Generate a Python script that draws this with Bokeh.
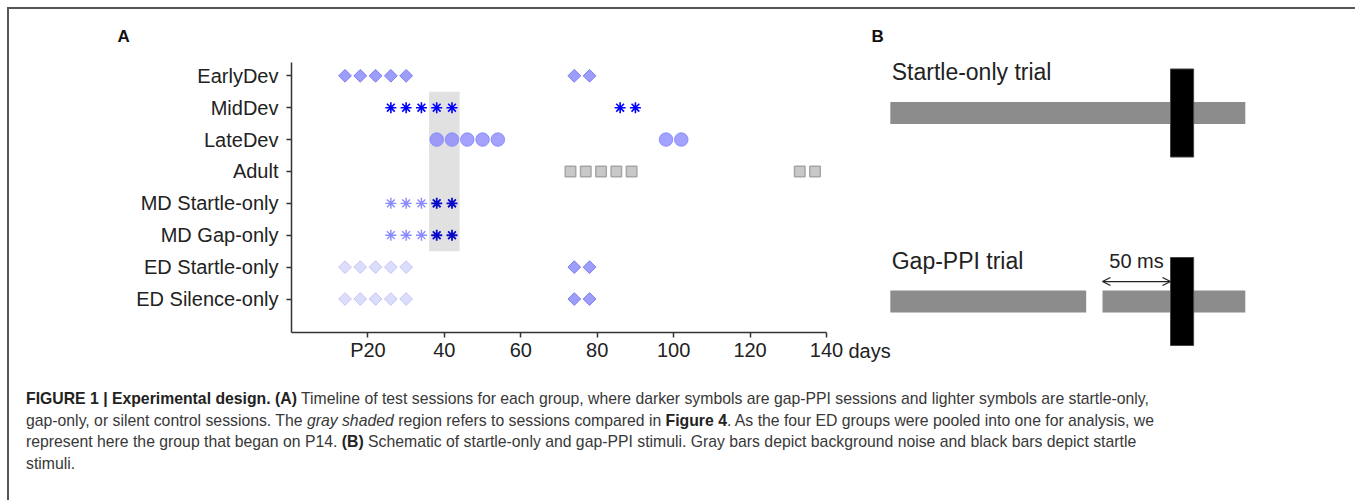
import numpy as np
from bokeh.plotting import figure
from bokeh.models import Range1d, FixedTicker, Div, Arrow, OpenHead
from bokeh.layouts import row, column
from bokeh.embed import file_html
from bokeh.resources import INLINE
from bokeh.core.properties import value

# ---------------- data : panel A ----------------
groups = ["EarlyDev", "MidDev", "LateDev", "Adult",
          "MD Startle-only", "MD Gap-only", "ED Startle-only", "ED Silence-only"]
x_ticks = [20, 40, 60, 80, 100, 120, 140]
x_tick_labels = ["P20", "40", "60", "80", "100", "120", "140"]
x_unit = "days"
panel_letters = ["A", "B"]

early_days = [14, 18, 22, 26, 30, 74, 78]
mid_days = [26, 30, 34, 38, 42, 86, 90]
late_days = [38, 42, 46, 50, 54, 98, 102]
adult_days = [73, 77, 81, 85, 89, 133, 137]
md_light_days = [26, 30, 34]
md_dark_days = [38, 42]
ed_light_days = [14, 18, 22, 26, 30]
ed_dark_days = [74, 78]
shade_days = [36, 44]
shade_groups = ["MidDev", "MD Gap-only"]

# ---------------- data : panel B (ms, startle onset = 0) ----------------
trials = ["Startle-only trial", "Gap-PPI trial"]
noise_start_ms = -206
noise_end_ms = 55
gap_start_ms = -62
gap_end_ms = -50
startle_dur_ms = 17
lead_label = "50 ms"

FONT = "Liberation Sans"
TXT = "#222222"

def row_of(g):
    return groups.index(g) + 1

# ---------------- strip with panel letters ----------------
strip = figure(width=1337, height=40, x_range=Range1d(9, 1346), y_range=Range1d(49, 9),
               x_axis_location=None, y_axis_location=None, min_border=0,
               output_backend="svg", toolbar_location=None, frame_align=False)
strip.grid.grid_line_color = None
strip.outline_line_color = None
strip.text(x=[117, 871], y=[35.6, 35.8], text=panel_letters, text_font=value(FONT),
           text_font_style="bold", text_font_size="17px", text_color="#111111",
           text_align="left", text_baseline="middle")

# ---------------- panel A ----------------
pA = figure(frame_width=535, frame_height=270, x_range=Range1d(0, 140),
            y_range=Range1d(9.05, 0.583), output_backend="svg",
            toolbar_location=None, min_border_left=282, min_border_top=13,
            min_border_right=19, min_border_bottom=38, frame_align=False)
pA.outline_line_color = None
pA.grid.grid_line_color = None

pA.quad(left=shade_days[0], right=shade_days[1],
        top=row_of(shade_groups[0]) - 0.5, bottom=row_of(shade_groups[1]) + 0.5,
        fill_color="#e1e1e1", line_color=None)

dia_fill, dia_line = "#9d9dfa", "#7d7df2"
light_fill, light_line = "#dcdcfc", "#c6c6f8"

pA.scatter(early_days, [row_of("EarlyDev")] * len(early_days), marker="square",
           angle=np.pi / 4, size=9, fill_color=dia_fill, line_color=dia_line, line_width=1)
pA.scatter(mid_days, [row_of("MidDev")] * len(mid_days), marker="asterisk",
           size=11, line_color="#0000ff", line_width=1.6)
pA.scatter(late_days, [row_of("LateDev")] * len(late_days), marker="circle",
           size=13.5, fill_color="#8080ff", fill_alpha=0.72, line_color="#8080ff", line_alpha=0.8)
pA.scatter(adult_days, [row_of("Adult")] * len(adult_days), marker="square",
           size=10.5, fill_color="#c8c8c8", line_color="#a6a6a6", line_width=1.5)
for g in ["MD Startle-only", "MD Gap-only"]:
    pA.scatter(md_light_days, [row_of(g)] * len(md_light_days), marker="asterisk",
               size=11, line_color="#8a8aff", line_width=1.4)
    pA.scatter(md_dark_days, [row_of(g)] * len(md_dark_days), marker="asterisk",
               size=11, line_color="#0808c8", line_width=1.8)
for g in ["ED Startle-only", "ED Silence-only"]:
    pA.scatter(ed_light_days, [row_of(g)] * len(ed_light_days), marker="square",
               angle=np.pi / 4, size=9, fill_color=light_fill, line_color=light_line, line_width=1)
    pA.scatter(ed_dark_days, [row_of(g)] * len(ed_dark_days), marker="square",
               angle=np.pi / 4, size=9, fill_color=dia_fill, line_color=dia_line, line_width=1)

for ax in (pA.xaxis, pA.yaxis):
    ax.axis_line_color = "#333333"
    ax.axis_line_width = 1.5
    ax.major_tick_line_color = "#333333"
    ax.major_tick_line_width = 1.5
    ax.major_tick_in = 0
    ax.major_tick_out = 5
    ax.minor_tick_line_color = None
    ax.major_label_text_font = FONT
    ax.major_label_text_font_size = "20px"
    ax.major_label_text_color = TXT

pA.xaxis.ticker = FixedTicker(ticks=x_ticks)
pA.xaxis.major_label_overrides = {t: l for t, l in zip(x_ticks, x_tick_labels)}
pA.xaxis.major_label_standoff = 1
rows = list(range(1, len(groups) + 1))
pA.yaxis.ticker = FixedTicker(ticks=rows)
pA.yaxis.major_label_overrides = {r: g for r, g in zip(rows, groups)}
pA.yaxis.major_label_standoff = 8

# ---------------- panel B ----------------
pB = figure(width=501, height=321, x_range=Range1d(-238.97, 129.41),
            y_range=Range1d(1.366, -0.3369), output_backend="svg",
            toolbar_location=None, min_border=0, x_axis_location=None,
            y_axis_location=None, frame_align=False)
pB.grid.grid_line_color = None
pB.outline_line_color = None

noise_h = 0.117
startle_h = 0.467
noise_col = "#8c8c8c"
# startle-only trial
pB.quad(left=[noise_start_ms], right=[noise_end_ms], top=[0 - noise_h / 2],
        bottom=[0 + noise_h / 2], fill_color=noise_col, line_color=None)
# gap-PPI trial
pB.quad(left=[noise_start_ms, gap_end_ms], right=[gap_start_ms, noise_end_ms],
        top=[1 - noise_h / 2] * 2, bottom=[1 + noise_h / 2] * 2,
        fill_color=noise_col, line_color=None)
# startle pulses
pB.quad(left=[0, 0], right=[startle_dur_ms, startle_dur_ms],
        top=[0 - startle_h / 2, 1 - startle_h / 2], bottom=[0 + startle_h / 2, 1 + startle_h / 2],
        fill_color="#000000", line_color="#444444", line_width=1)

pB.text(x=[noise_start_ms + 1, noise_start_ms + 1], y=[0 - 0.219, 1 - 0.215], text=trials,
        text_font=value(FONT), text_font_size="23px", text_color=TXT,
        text_align="left", text_baseline="middle")
pB.text(x=[(gap_end_ms + 0) / 2], y=[1 - 0.2137], text=[lead_label],
        text_font=value(FONT), text_font_size="20px", text_color=TXT,
        text_align="center", text_baseline="middle")
pB.add_layout(Arrow(x_start=gap_end_ms, x_end=0, y_start=1 - 0.106, y_end=1 - 0.106,
                    line_color="#222222", line_width=1.3,
                    start=OpenHead(size=8, line_color="#222222", line_width=1.3),
                    end=OpenHead(size=8, line_color="#222222", line_width=1.3)))
# unit label of panel A's time axis (sits right of the "140" tick)
pB.text(x=[-236.8], y=[1.26], text=[x_unit], text_font=value(FONT),
        text_font_size="20px", text_color=TXT, text_align="left",
        text_baseline="middle")

# ---------------- caption ----------------
caption_html = (
    '<div style="padding:13px 0 0 12px;">'
    '<div style="font-family:\'Liberation Sans\';font-size:17px;line-height:21.7px;color:#383838;'
    'transform:scaleX(0.928);transform-origin:left top;white-space:nowrap;">'
    '<b style="color:#222">FIGURE 1 | Experimental design. (A)</b> Timeline of test sessions for each group, '
    'where darker symbols are gap-PPI sessions and lighter symbols are startle-only,<br>'
    'gap-only, or silent control sessions. The <i>gray shaded</i> region refers to sessions compared in '
    '<b style="color:#222">Figure 4</b>. As the four ED groups were pooled into one for analysis, we<br>'
    'represent here the group that began on P14. <b style="color:#222">(B)</b> Schematic of startle-only and '
    'gap-PPI stimuli. Gray bars depict background noise and black bars depict startle<br>'
    'stimuli.</div></div>'
)
cap = Div(text=caption_html, width=1337, height=121)

layout = column(strip, row(pA, pB), cap, margin=(7, 0, 0, 7),
                styles={"border-top": "2px solid #555555", "border-left": "2px solid #555555"})

open("out.html", "w").write(file_html(layout, INLINE))
